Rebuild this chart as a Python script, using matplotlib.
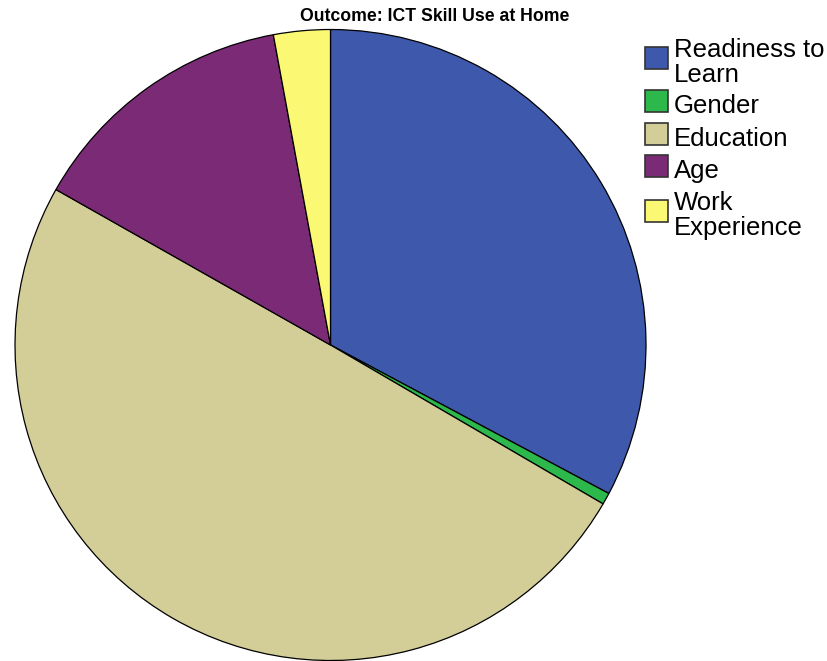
import matplotlib
matplotlib.use("Agg")
from matplotlib import pyplot as plt
from matplotlib.patches import Rectangle

# share of explained variance per predictor (percent)
labels = ["Readiness to\nLearn", "Gender", "Education", "Age", "Work\nExperience"]
shares = [32.8, 0.6, 49.8, 13.9, 2.9]
colors = ["#3E58AC", "#2DB84B", "#D3CE97", "#7B2A75", "#FBF873"]

W, H = 828, 661
fig = plt.figure(figsize=(W / 100, H / 100), dpi=100)

# pie axes: centre at (330.5, 345) px, radius 315.5 px
cx, cy, r = 330.5, 345.0, 315.5
ax = fig.add_axes([(cx - r) / W, (H - cy - r) / H, 2 * r / W, 2 * r / H])
ax.pie(shares, colors=colors, startangle=90, counterclock=False, radius=1,
       wedgeprops=dict(edgecolor="black", linewidth=0.9))
ax.set_xlim(-1, 1)
ax.set_ylim(-1, 1)
ax.set_aspect("auto")
ax.axis("off")

fig.text(435 / W, 1 - 21 / H, "Outcome: ICT Skill Use at Home",
         ha="center", va="baseline", fontsize=12.7, fontweight="bold",
         family="Liberation Sans")

# legend drawn by hand, square centres in px from top
sq_centres = [58, 101, 134, 166, 211]
sq = 22.5
for lab, col, yc in zip(labels, colors, sq_centres):
    fig.patches.append(Rectangle((645.5 / W, 1 - (yc + sq / 2) / H), sq / W, sq / H,
                                 transform=fig.transFigure, facecolor=col,
                                 edgecolor="#333333", linewidth=1.2))
    lines = lab.split("\n")
    base = yc + 11.7 - (len(lines) - 1) * 12.5
    for i, line in enumerate(lines):
        fig.text(674 / W, 1 - (base + i * 25) / H, line, ha="left", va="baseline",
                 fontsize=18.5, family="Liberation Sans", color="black")

fig.savefig("out.png", dpi=100, facecolor="white")
